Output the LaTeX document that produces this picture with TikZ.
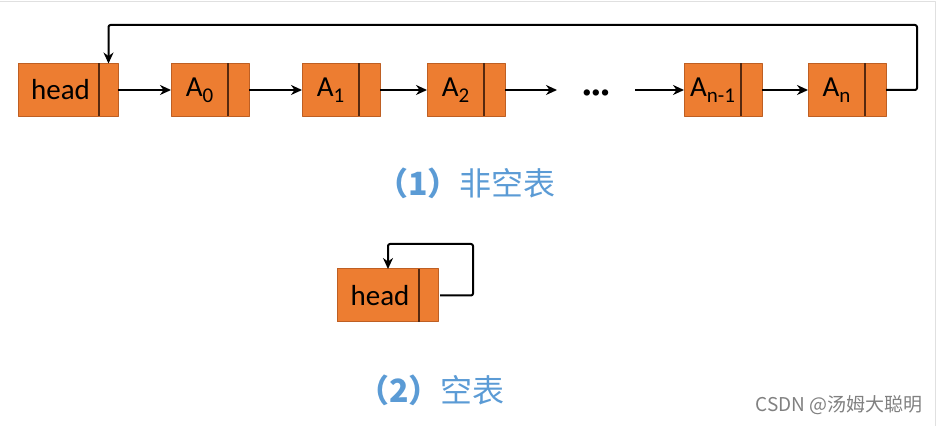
\documentclass[tikz,border=0pt]{standalone}
\usepackage{fontspec}
\setmainfont{Carlito}
\newfontfamily\cjk{Noto Sans CJK SC}
\usetikzlibrary{arrows.meta,positioning}
\definecolor{boxfill}{RGB}{237,125,49}
\definecolor{boxline}{RGB}{190,95,35}
\definecolor{divline}{RGB}{85,40,15}
\definecolor{capblue}{RGB}{91,155,213}
\newcommand\lowidx[1]{\raisebox{-6pt}{\fontsize{21}{22}\selectfont #1}}
\tikzset{
  datacell/.style={draw=boxline, fill=boxfill, line width=1pt, outer sep=0pt, inner sep=0pt,
    minimum height=53pt, font=\fontsize{29}{31}\selectfont},
  ptrcell/.style={datacell, minimum width=21pt},
  arr/.style={->, line width=2pt},
  caption/.style={text=capblue, font=\cjk\fontsize{32}{36}\selectfont},
}
\begin{document}
\begin{tikzpicture}[x=1pt, y=1pt, >={Stealth[length=11pt,width=10pt]}, line join=round]
  \useasboundingbox (0,0) rectangle (940,426);
  % screenshot frame
  \draw[black!12, line width=1pt] (0,424) -- (935,424) -- (935,0);

  % (1) non-empty list
  \node[datacell, minimum width=81pt] (head) at (58.5,336) {\hspace{4pt}head};
  \node[ptrcell, minimum width=19pt, right=0pt of head] (headp) {};
  \node[datacell, minimum width=57pt] (a0) at (199.5,336) {A\lowidx{0}};
  \node[ptrcell, right=0pt of a0] (a0p) {};
  \node[datacell, minimum width=57pt] (a1) at (330.5,336) {A\lowidx{1}};
  \node[ptrcell, right=0pt of a1] (a1p) {};
  \node[datacell, minimum width=57pt] (a2) at (455.5,336) {A\lowidx{2}};
  \node[ptrcell, right=0pt of a2] (a2p) {};
  \node[minimum width=78pt, inner sep=0pt, outer sep=0pt, font=\bfseries\fontsize{34}{36}\selectfont] (dots) at (596,330) {···};
  \node[datacell, minimum width=57pt] (an1) at (712.5,336) {A\lowidx{n-1}};
  \node[ptrcell, right=0pt of an1] (an1p) {};
  \node[datacell, minimum width=57pt] (an) at (836.5,336) {A\lowidx{n}};
  \node[ptrcell, right=0pt of an] (anp) {};

  \draw[arr] (headp.east) -- (a0.west);
  \draw[arr] (a0p.east) -- (a1.west);
  \draw[arr] (a1p.east) -- (a2.west);
  \draw[arr] (a2p.east) -- (dots.west |- a2p.east);
  \draw[arr] (dots.east |- an1.west) -- (an1.west);
  \draw[arr] (an1p.east) -- (an.west);
  \coordinate (ret) at (917,401);
  \draw[arr, rounded corners=2pt] (anp.east) -| (ret) -| (headp.north);

  \node[caption] (cap1) at (466,243) {\textbf{（1）}非空表};

  % (2) empty list
  \node[datacell, minimum width=82pt] (head2) at (378,130.5) {\hspace{4pt}head};
  \node[ptrcell, minimum width=19pt, right=0pt of head2] (head2p) {};
  \coordinate (loop) at (473,182);
  \draw[arr, rounded corners=2pt] ([xshift=2pt]head2p.east) -| (loop) -| ([xshift=10pt]head2.north);

  \node[caption] (cap2) at (431,36) {\textbf{（2）}空表};

  % cell dividers
  \foreach \p in {headp,a0p,a1p,a2p,an1p,anp,head2p}
    \draw[divline, line width=1.2pt] (\p.north west) -- (\p.south west);

  \node[text=black!50, font=\cjk\fontsize{19}{20}\selectfont] (mark) at (839,21) {CSDN @汤姆大聪明};
\end{tikzpicture}
\end{document}
